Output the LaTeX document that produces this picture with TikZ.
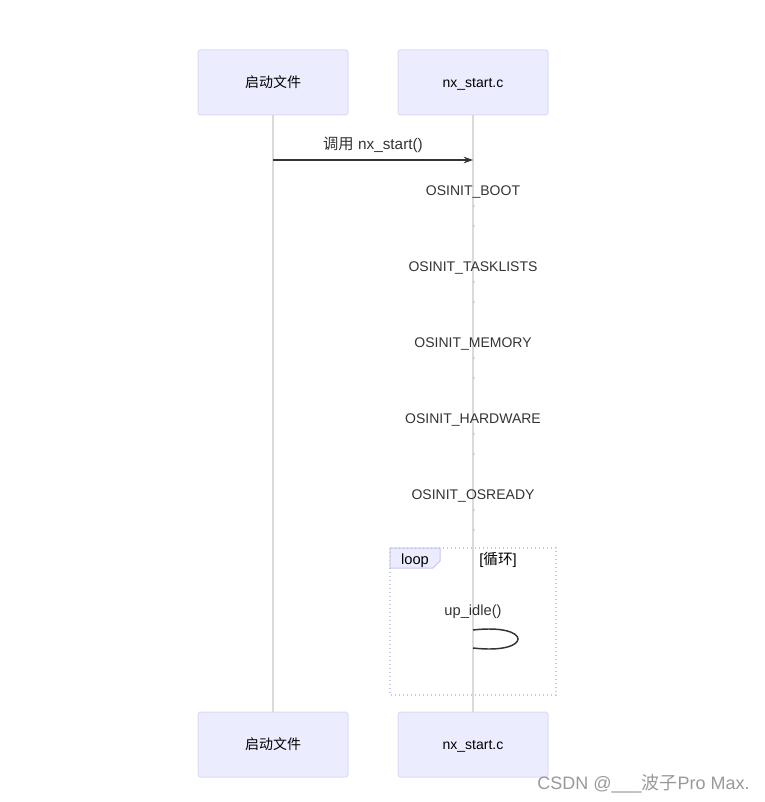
\documentclass[tikz,border=0pt]{standalone}
\usepackage{fontspec}
\setmainfont{Liberation Sans}
\newfontfamily\cjk{Noto Sans CJK SC}
\usetikzlibrary{arrows.meta}
\definecolor{actfill}{HTML}{ECECFF}
\definecolor{actline}{HTML}{DCD9F5}
\definecolor{lifegray}{HTML}{DADADA}
\definecolor{txt}{HTML}{333333}
\definecolor{frameline}{HTML}{C8C3EE}
\begin{document}
\begin{tikzpicture}[x=0.75pt,y=-0.75pt,
  actor/.style={draw=actline,fill=actfill,rounded corners=2pt,line width=0.75pt,
    minimum width=112.5pt,minimum height=48.75pt,inner sep=0pt,font=\fontsize{10.5pt}{12pt}\selectfont,text=black},
  life/.style={draw=lifegray,line width=1.4pt},
  msg/.style={draw=txt,line width=1.1pt,-{Stealth[length=7pt,width=5pt]}},
  lbl/.style={font=\fontsize{10.5pt}{12pt}\selectfont,text=txt,inner sep=0pt},
  dotmark/.style={fill=gray},
  frame/.style={draw=frameline,line width=1pt,dotted},
  tab/.style={draw=frameline,fill=actfill,line width=0.75pt}]
\useasboundingbox (0,0) rectangle (764,802);
% actors
\node[actor] (a1) at (273,82.5) {\cjk 启动文件};
\node[actor] (a2) at (473,82.5) {\phantom{x}};
\node[lbl,text=black,font=\fontsize{10.5pt}{12pt}\selectfont] (a2t) at (473,84) {nx\_start.c};
\node[actor] (b1) at (273,744.5) {\cjk 启动文件};
\node[actor] (b2) at (473,744.5) {\phantom{x}};
\node[lbl,text=black,font=\fontsize{10.5pt}{12pt}\selectfont] (b2t) at (473,746) {nx\_start.c};
% lifelines
\draw[life] (a1.south) -- (b1.north);
\draw[life] (a2.south) -- (b2.north);
% message
\coordinate (m1s) at (273,160);
\coordinate (m1e) at (473,160);
\draw[msg] (m1s) -- (m1e);
\node[lbl,font=\fontsize{11.5pt}{13pt}\selectfont] (m1l) at (373,145) {{\cjk 调用} nx\_start()};
% self messages
\node[lbl] (s1) at (473,192) {OSINIT\_BOOT};
\node[lbl] (s2) at (473,268) {OSINIT\_TASKLISTS};
\node[lbl] (s3) at (473,344) {OSINIT\_MEMORY};
\node[lbl] (s4) at (473,420) {OSINIT\_HARDWARE};
\node[lbl] (s5) at (473,496) {OSINIT\_OSREADY};
\foreach \y in {190,266,342,418,494}{
  \fill[dotmark] (474,\y+16) circle (0.5pt);
  \fill[dotmark] (474,\y+36) circle (0.5pt);
}
% loop frame
\draw[frame] (390,548) rectangle (556,695);
\draw[tab] (390,548) -- (440,548) -- (440,561) -- (433,568) -- (390,568) -- cycle;
\node[lbl,text=black,font=\fontsize{11pt}{13pt}\selectfont] (looplbl) at (415,561) {loop};
\node[lbl,text=black,font=\fontsize{11pt}{13pt}\selectfont] (loopcond) at (498,560) {[{\cjk 循环}]};
% up_idle self loop
\node[lbl,font=\fontsize{11pt}{13pt}\selectfont] (idle) at (473,612) {up\_idle()};
\coordinate (l1s) at (473,630);
\coordinate (l1e) at (473,648);
\draw[draw=txt,line width=1.1pt] (l1s) .. controls (533,623) and (533,655) .. (l1e);
% watermark
\node[font=\fontsize{13.5pt}{15pt}\selectfont,text=gray!80,inner sep=0pt,anchor=east] (wm) at (750,784) {CSDN @\_\_\_{\cjk 波子}Pro Max.};
\end{tikzpicture}
\end{document}
